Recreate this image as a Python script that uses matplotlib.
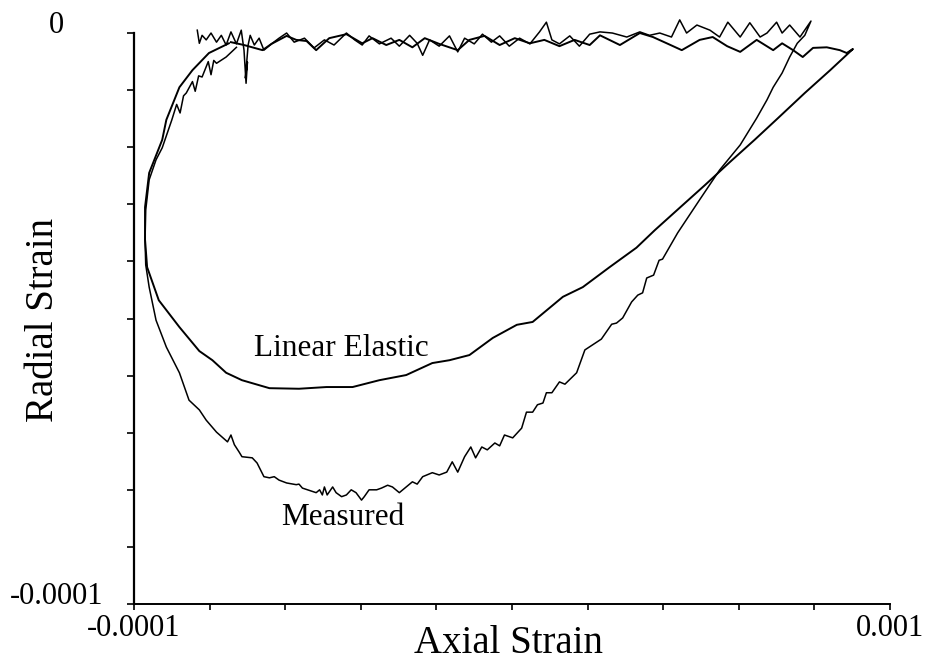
import matplotlib
matplotlib.use('Agg')
import matplotlib.pyplot as plt
import numpy as np

# strains, in microstrain (x 1e-6)
# linear elastic: top band left->right, down the right side, along the bottom, up the left side
le_axial = [41, 60, 75, 87, 100, 122, 136, 151, 165, 184, 209, 232, 247, 267, 286, 305, 323, 344,
            371, 388, 410, 432, 454, 476, 497, 519, 541, 563, 578, 607, 636, 655, 677, 697, 723,
            742, 763, 782, 806, 830, 843, 859, 873, 888, 908, 927, 937, 946,
            913, 876, 837, 803, 767, 731, 694, 658, 631, 592, 553, 524, 480, 457, 422, 388, 359,
            334, 296, 257, 218, 180, 140, 97, 57, 34, 14, -5, -34, -64, -81, -84, -84, -78, -59,
            -53, -34, -15, 9, 38]
le_radial = [-1.6, -2.1, -2.6, -3.0, -1.9, -0.5, -1.2, -1.4, -3.0, -0.9, -0.2, -1.8, -0.9, -2.1,
             -1.2, -2.5, -0.9, -1.9, -3.0, -1.2, -0.5, -2.1, -0.9, -1.8, -1.2, -2.3, -1.2, -2.1,
             -0.4, -2.1, 0.0, -0.7, -1.9, -3.0, -1.2, -0.7, -2.3, -3.3, -1.2, -3.0, -1.8, -3.0,
             -4.2, -2.6, -2.5, -3.0, -3.5, -2.8,
             -6.5, -10.5, -14.9, -18.7, -22.6, -26.6, -30.6, -34.5, -37.6, -41.0, -44.5, -46.2,
             -50.6, -51.1, -53.4, -56.4, -57.3, -57.8, -59.9, -60.8, -62.0, -62.0, -62.3, -62.2,
             -60.8, -59.5, -57.3, -55.7, -51.5, -46.8, -41.0, -36.2, -30.5, -24.5, -18.7, -15.2,
             -9.5, -6.5, -3.5, -1.8]

# measured: starts at the hook top left, noisy band to the right, then down and round
ms_axial = [-8, -5, -1, 5, 12, 20, 27, 34, 41, 49, 56, 60, 63, 65, 62, 66, 69, 75, 82, 89, 100,
            111, 122, 133, 148, 162, 177, 191, 209, 221, 232, 242, 257, 274, 286, 301, 312, 320,
            330, 344, 359, 371, 381, 395, 407, 420, 432, 446, 461, 476, 490, 500, 508, 519, 534,
            548, 563, 578, 596, 617, 636, 650, 665, 682, 694, 704, 719, 738, 752, 764, 782, 796,
            811, 821, 835, 843, 854, 869, 885,
            876, 865, 854, 843, 830, 821, 806, 782, 752, 723, 691, 669, 664, 656, 646, 640, 633,
            624, 611, 602, 595, 580, 556, 544, 527, 519, 508, 500, 495, 487, 480, 471, 464, 451,
            439, 432, 425, 414, 406, 397, 390, 381, 371, 363, 359, 355, 344, 334, 320, 312, 305,
            296, 286, 276, 269, 260, 253, 242, 235, 231, 223, 216, 209, 202, 194, 189, 181, 177,
            174, 170, 165, 145, 140, 136, 122, 111, 104, 97, 89, 79, 72, 57, 53, 46, 41, 36, 20,
            5, -5, -20, -34, -53, -68, -78, -83, -84, -83, -78, -68, -59, -45, -38, -33, -28, -24,
            -15, -11, -6, -1, 8, 12, 16, 20, 34, 49]
ms_radial = [0.5, -1.8, -0.4, -1.2, 0.0, -1.6, -0.4, -2.1, 0.2, -1.9, 0.5, -3.0, -8.8, -5.1,
             -7.9, -2.1, -0.4, -2.1, -0.9, -3.0, -1.9, -0.9, 0.0, -1.6, -0.9, -2.6, -1.2, -2.1,
             0.0, -1.2, -2.1, -0.5, -1.9, -0.9, -2.3, -0.4, -1.8, -3.9, -1.2, -2.3, -0.5, -3.3,
             -0.9, -1.9, -0.2, -1.6, -0.5, -2.3, -0.9, -1.9, 0.2, 1.9, -1.2, -1.9, -0.5, -2.3,
             -0.2, 0.2, 0.0, -0.7, 0.2, -0.4, 0.0, -0.7, 2.3, 0.0, 1.4, 0.5, -0.7, 1.9, -0.7, 1.8,
             -0.7, 0.0, 1.9, 0.0, 1.4, -0.7, 2.1,
             -0.4, -1.8, -4.2, -7.0, -9.5, -11.7, -14.9, -19.6, -24.0, -29.2, -35.0, -39.6, -39.8,
             -42.4, -42.9, -45.5, -45.9, -47.1, -49.9, -50.8, -51.0, -53.6, -55.5, -59.5, -61.5,
             -61.1, -63.0, -63.0, -64.8, -65.1, -66.4, -66.4, -69.2, -70.9, -70.4, -72.3, -71.8,
             -73.0, -72.5, -74.4, -72.5, -74.2, -76.9, -75.1, -76.0, -76.9, -77.4, -77.0, -77.7,
             -79.0, -78.6, -79.5, -80.5, -79.5, -79.2, -79.7, -80.0, -80.0, -81.2, -81.8, -80.5,
             -80.0, -80.9, -81.2, -80.5, -79.5, -80.9, -79.5, -80.9, -80.0, -80.5, -79.7, -79.0,
             -79.1, -78.8, -78.3, -77.7, -77.9, -77.7, -75.3, -74.4, -74.2, -73.4, -72.1, -70.4,
             -71.6, -69.9, -67.8, -66.0, -64.3, -59.5, -55.0, -50.3, -44.5, -40.6, -36.3, -31.0,
             -25.7, -22.2, -20.1, -15.2, -12.5, -14.0, -11.0, -10.5, -8.5, -10.2, -7.5, -7.7,
             -5.0, -7.3, -4.8, -5.3, -4.2, -2.5]

x_ticks = np.linspace(-1e-4, 1e-3, 11)
x_labels = ['-0.0001'] + [''] * 9 + ['0.001']
y_ticks = np.linspace(-1e-4, 0, 11)
y_labels = ['-0.0001'] + [''] * 9 + ['0']

plt.rcParams['font.family'] = ['Liberation Serif', 'DejaVu Serif']

fig = plt.figure(figsize=(9.27, 6.62), dpi=100)
ax = fig.add_axes([0.1446, 0.0876, 0.8155, 0.8625])

ms = 1e-6
ax.plot(np.array(le_axial) * ms, np.array(le_radial) * ms, color='black', lw=1.4, clip_on=False)
ax.plot(np.array(ms_axial) * ms, np.array(ms_radial) * ms, color='black', lw=1.1, clip_on=False)

ax.set_xlim(-1e-4, 1e-3)
ax.set_ylim(-1e-4, 0)
ax.spines['top'].set_visible(False)
ax.spines['right'].set_visible(False)
ax.spines['left'].set_linewidth(1.6)
ax.spines['bottom'].set_linewidth(1.4)

ax.set_xticks(x_ticks)
ax.set_xticklabels(x_labels, fontsize=22)
ax.set_yticks(y_ticks)
ax.set_yticklabels(y_labels, fontsize=22)
ax.tick_params(axis='x', direction='out', length=4, width=1.2, pad=3)
ax.tick_params(axis='y', direction='out', length=5, width=1.2, pad=51)
for lab in ax.get_yticklabels():
    lab.set_ha('center')
    lab.set_va('baseline')

ax.text(202e-6, -55.3e-6, 'Linear Elastic', fontsize=22.5, ha='center', va='center')
ax.text(203e-6, -84.8e-6, 'Measured', fontsize=22.5, ha='center', va='center')

fig.text(0.549, 0.013, 'Axial Strain', fontsize=28, ha='center', va='baseline')
fig.text(0.0464, 0.517, 'Radial Strain', fontsize=28, ha='center', va='center', rotation=90)

fig.savefig('out.png', dpi=100)
